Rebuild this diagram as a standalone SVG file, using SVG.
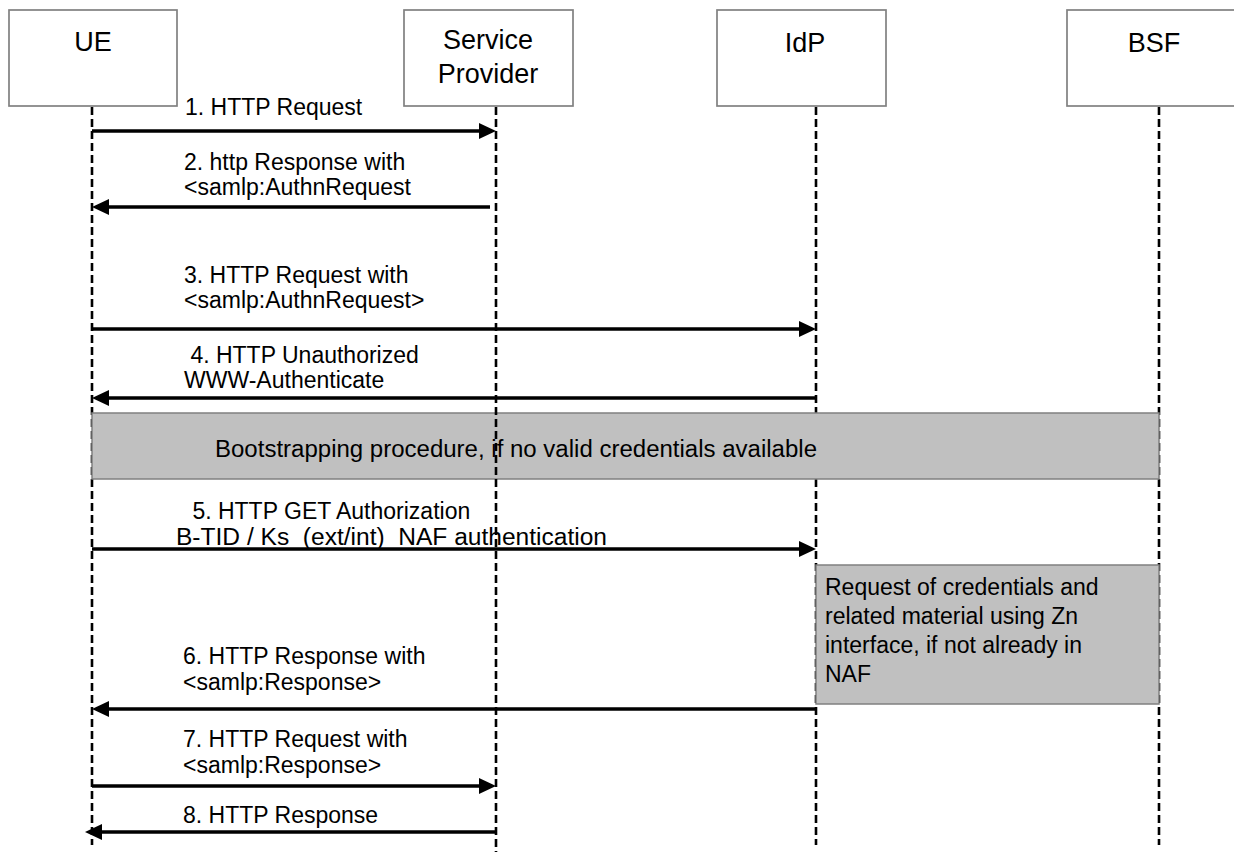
<svg xmlns="http://www.w3.org/2000/svg" width="1234" height="852" viewBox="0 0 1234 852">
<style>
text{font-family:"Liberation Sans",Arial,sans-serif;fill:#000}
.hdr{font-size:27px;text-anchor:middle}
.lbl{font-size:23px;white-space:pre}
.box{fill:#fff;stroke:#808080;stroke-width:1.7}
.gray{fill:#c0c0c0;stroke:#808080;stroke-width:1.5}
.life{stroke:#000;stroke-width:2.6;stroke-dasharray:8,4;fill:none}
.msg{stroke:#000;stroke-width:3.4;fill:none;marker-end:url(#ah)}
</style>
<defs>
<marker id="ah" markerUnits="userSpaceOnUse" markerWidth="17" markerHeight="16" refX="12" refY="8" orient="auto">
<path d="M0,0 L17,8 L0,16 z" fill="#000"/>
</marker>
</defs>
<rect width="1234" height="852" fill="#fff"/>
<g id="lifelines">
<line class="life" x1="92" y1="107" x2="92" y2="845"/>
<line class="life" x1="816" y1="107" x2="816" y2="845"/>
<line class="life" x1="1159" y1="107" x2="1159" y2="845"/>
</g>
<g id="UE"><rect class="box" x="9" y="10" width="168" height="96"/><text class="hdr" x="93" y="51">UE</text></g>
<g id="SP"><rect class="box" x="404" y="10" width="169" height="96"/><text class="hdr" x="488" y="49">Service</text><text class="hdr" x="488" y="83">Provider</text></g>
<g id="IdP"><rect class="box" x="717" y="10" width="169" height="96"/><text class="hdr" x="805" y="52">IdP</text></g>
<g id="BSF"><rect class="box" x="1067" y="10" width="180" height="96"/><text class="hdr" x="1154" y="52">BSF</text></g>
<g id="bootstrap"><rect class="gray" x="92" y="413" width="1067" height="66"/><text class="lbl" x="215" y="457" textLength="602" lengthAdjust="spacingAndGlyphs">Bootstrapping procedure, if no valid credentials available</text></g>
<g id="znrequest"><rect class="gray" x="816" y="565" width="343" height="139"/>
<text class="lbl" x="825" y="595">Request of credentials and</text>
<text class="lbl" x="825" y="624">related material using Zn</text>
<text class="lbl" x="825" y="653">interface, if not already in</text>
<text class="lbl" x="825" y="682">NAF</text></g>
<g id="sp-lifeline"><line class="life" x1="496" y1="107" x2="496" y2="852"/></g>
<g id="connectors">
<line class="msg" x1="92" y1="131" x2="491" y2="131"/>
<line class="msg" x1="490" y1="207" x2="97" y2="207"/>
<line class="msg" x1="92" y1="329" x2="811" y2="329"/>
<line class="msg" x1="816" y1="398" x2="97" y2="398"/>
<line class="msg" x1="92" y1="549" x2="811" y2="549"/>
<line class="msg" x1="816" y1="709" x2="97" y2="709"/>
<line class="msg" x1="92" y1="786" x2="491" y2="786"/>
<line class="msg" x1="496" y1="832" x2="90" y2="832"/>
</g>
<g id="labels">
<text class="lbl" x="185" y="115">1. HTTP Request</text>
<text class="lbl" x="184" y="170">2. http Response with</text>
<text class="lbl" x="184" y="195">&lt;samlp:AuthnRequest</text>
<text class="lbl" x="184" y="283">3. HTTP Request with</text>
<text class="lbl" x="184" y="308">&lt;samlp:AuthnRequest&gt;</text>
<text class="lbl" x="184" y="363"> 4. HTTP Unauthorized</text>
<text class="lbl" x="184" y="388">WWW-Authenticate</text>
<text class="lbl" x="186" y="519"> 5. HTTP GET Authorization</text>
<text class="lbl" x="176" y="545" textLength="431" lengthAdjust="spacingAndGlyphs">B-TID / Ks  (ext/int)  NAF authentication</text>
<text class="lbl" x="183" y="664">6. HTTP Response with</text>
<text class="lbl" x="183" y="690">&lt;samlp:Response&gt;</text>
<text class="lbl" x="183" y="747">7. HTTP Request with</text>
<text class="lbl" x="183" y="773">&lt;samlp:Response&gt;</text>
<text class="lbl" x="183" y="823">8. HTTP Response</text>
</g>
</svg>
